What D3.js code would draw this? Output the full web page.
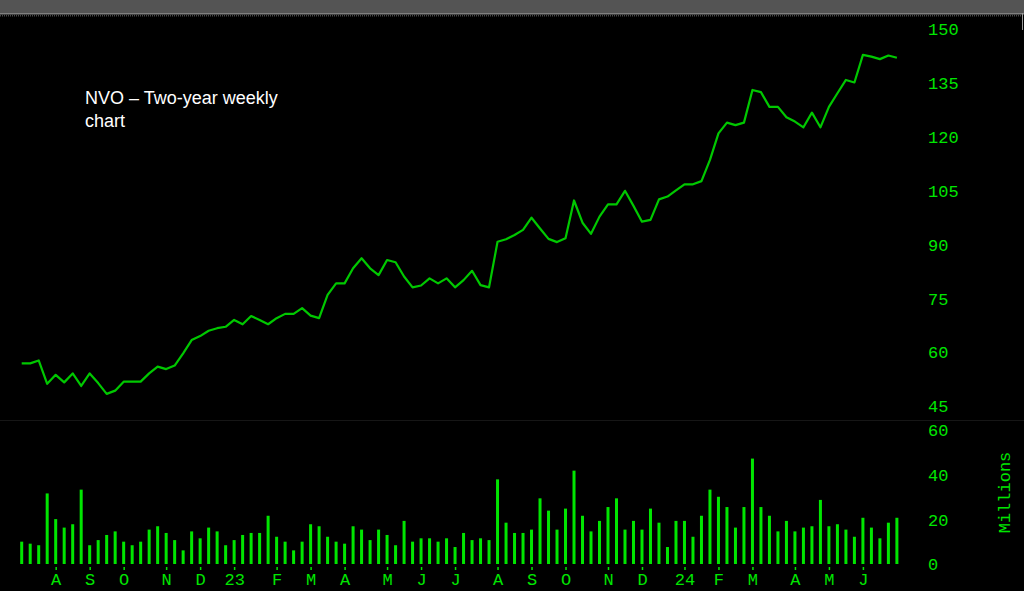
<!DOCTYPE html>
<html>
<head>
<meta charset="utf-8">
<script src="https://cdn.jsdelivr.net/npm/d3@7"></script>
<style>
html,body{margin:0;padding:0;background:#000;overflow:hidden;}
svg{display:block;}
</style>
</head>
<body>
<svg id="chart" width="1024" height="591"></svg>
<script>
// ---- data ----
const closes = [
  56.8,56.8,57.6,51.1,53.6,51.5,54.0,50.5,54.0,51.3,
  48.3,49.2,51.7,51.7,51.7,54.0,55.9,55.2,56.2,59.6,
  63.3,64.4,65.9,66.6,67.0,68.9,67.7,70.0,68.9,67.7,
  69.4,70.6,70.6,72.2,70.1,69.4,75.9,79.1,79.1,83.3,
  86.1,83.3,81.4,85.6,85.0,81.0,78.0,78.5,80.5,79.1,
  80.5,78.0,80.0,82.6,78.6,78.0,90.7,91.4,92.6,94.0,
  97.4,94.4,91.5,90.6,91.7,102.2,96.0,92.9,97.7,101.1,
  101.1,104.9,100.7,96.3,96.8,102.5,103.3,105.0,106.7,106.7,
  107.6,113.5,120.9,123.9,123.2,123.9,133.0,132.4,128.3,128.3,
  125.4,124.2,122.6,126.7,122.6,128.3,132.1,135.8,135.1,142.8,
  142.3,141.6,142.6,142.0
];
const volumes = [
  10.0,9.1,8.4,31.6,20.1,16.3,17.8,33.3,8.4,10.7,
  13.0,14.6,10.0,8.4,10.0,15.4,16.9,13.9,10.7,6.1,
  14.6,11.5,16.3,14.6,8.4,10.7,13.0,13.9,13.9,21.6,
  12.2,10.0,6.1,10.0,17.8,16.9,12.2,10.0,9.1,16.9,
  15.4,10.7,15.4,13.0,8.4,19.3,10.0,11.5,11.5,10.0,
  11.5,7.6,13.9,10.7,11.5,10.7,37.9,18.5,13.9,13.9,
  15.4,29.4,23.9,15.4,24.8,41.8,21.6,14.6,19.3,25.5,
  29.4,15.4,19.3,15.4,24.8,18.5,7.6,19.3,19.3,12.2,
  21.6,33.3,30.1,25.5,16.3,25.5,47.2,25.5,21.6,14.6,
  19.3,14.6,16.3,16.9,28.7,16.9,17.8,15.4,12.2,20.7,
  16.3,11.5,18.5,20.7
];
const monthLabels = ["A","S","O","N","D","23","F","M","A","M","J","J","A","S","O","N","D","24","F","M","A","M","J"];
const monthIndex  = [4,8,12,17,21,25,30,34,38,43,47,51,56,60,64,69,73,78,82,86,91,95,99];
const priceTicks = [45,60,75,90,105,120,135,150];
const volumeTicks = [0,20,40,60];
const titleLines = ["NVO \u2013 Two-year weekly","chart"];
const volumeUnit = "Millions";

// ---- drawing ----
const svg = d3.select("#chart");
const W = 1024, H = 591;
const green = "#00e600";
const lineGreen = "#00c800";
const mono = "'Liberation Mono','DejaVu Sans Mono',monospace";

svg.append("rect").attr("width", W).attr("height", H).attr("fill", "#000");
// top window band
svg.append("rect").attr("x",0).attr("y",0).attr("width",W).attr("height",13).attr("fill","#545454");
svg.append("rect").attr("x",0).attr("y",13).attr("width",W).attr("height",1.5).attr("fill","#808080");
svg.append("line").attr("x1",0).attr("x2",W).attr("y1",15.5).attr("y2",15.5)
  .attr("stroke","#4a4a4a").attr("stroke-width",2).attr("stroke-dasharray","1,1");
svg.append("line").attr("x1",1022.5).attr("x2",1022.5).attr("y1",13).attr("y2",30)
  .attr("stroke","#9a9a9a").attr("stroke-width",1);

const x = d3.scaleLinear().domain([0, closes.length - 1]).range([21.7, 896.9]);
const yP = d3.scaleLinear().domain([45, 150]).range([405.7, 29]);
const yV = d3.scaleLinear().domain([0, 60]).range([564, 430]);

// panel separator
svg.append("line").attr("x1",0).attr("x2",W).attr("y1",420.5).attr("y2",420.5)
  .attr("stroke","#161616").attr("stroke-width",1);

// price axis (right)
const axP = d3.axisRight(yP).tickValues(priceTicks).tickSize(0).tickPadding(0);
const gP = svg.append("g").attr("transform","translate(928,0)").call(axP);
gP.select(".domain").remove();
gP.selectAll("text").attr("fill", green).attr("font-family", mono).attr("font-size", 17)
  .attr("x", 0).attr("dy", "0.35em").attr("text-anchor","start");

// volume axis (right)
const axV = d3.axisRight(yV).tickValues(volumeTicks).tickSize(0).tickPadding(0);
const gV = svg.append("g").attr("transform","translate(928,0)").call(axV);
gV.select(".domain").remove();
gV.selectAll("text").attr("fill", green).attr("font-family", mono).attr("font-size", 17)
  .attr("x", 0).attr("dy", "0.35em").attr("text-anchor","start");

svg.append("text").text(volumeUnit)
  .attr("transform","translate(1010,492.5) rotate(-90)")
  .attr("text-anchor","middle").attr("fill", green)
  .attr("font-family", mono).attr("font-size", 17);

// price line
const line = d3.line().x((d,i) => x(i)).y(d => yP(d));
svg.append("path").datum(closes).attr("d", line)
  .attr("fill","none").attr("stroke", lineGreen).attr("stroke-width", 2.2)
  .attr("stroke-linejoin","round");

// volume bars
svg.append("g").selectAll("rect").data(volumes).join("rect")
  .attr("x", (d,i) => x(i) - 1.5).attr("width", 3)
  .attr("y", d => yV(d)).attr("height", d => yV(0) - yV(d))
  .attr("fill", green);

// month axis
const axX = d3.axisBottom(x).tickValues(monthIndex)
  .tickFormat((d,i) => monthLabels[i]).tickSize(3).tickPadding(3);
const gX = svg.append("g").attr("transform","translate(0,567)").call(axX);
gX.select(".domain").remove();
gX.selectAll("line").attr("stroke", green).attr("stroke-width", 1.5);
gX.selectAll("text").attr("fill", green).attr("font-family", mono).attr("font-size", 17);

// title
const t = svg.append("text").attr("fill","#fff")
  .attr("font-family","'Liberation Sans',Arial,sans-serif").attr("font-size",18);
titleLines.forEach((s,i) => {
  t.append("tspan").attr("x", 85).attr("y", 104 + i*23).text(s);
});
</script>
</body>
</html>
